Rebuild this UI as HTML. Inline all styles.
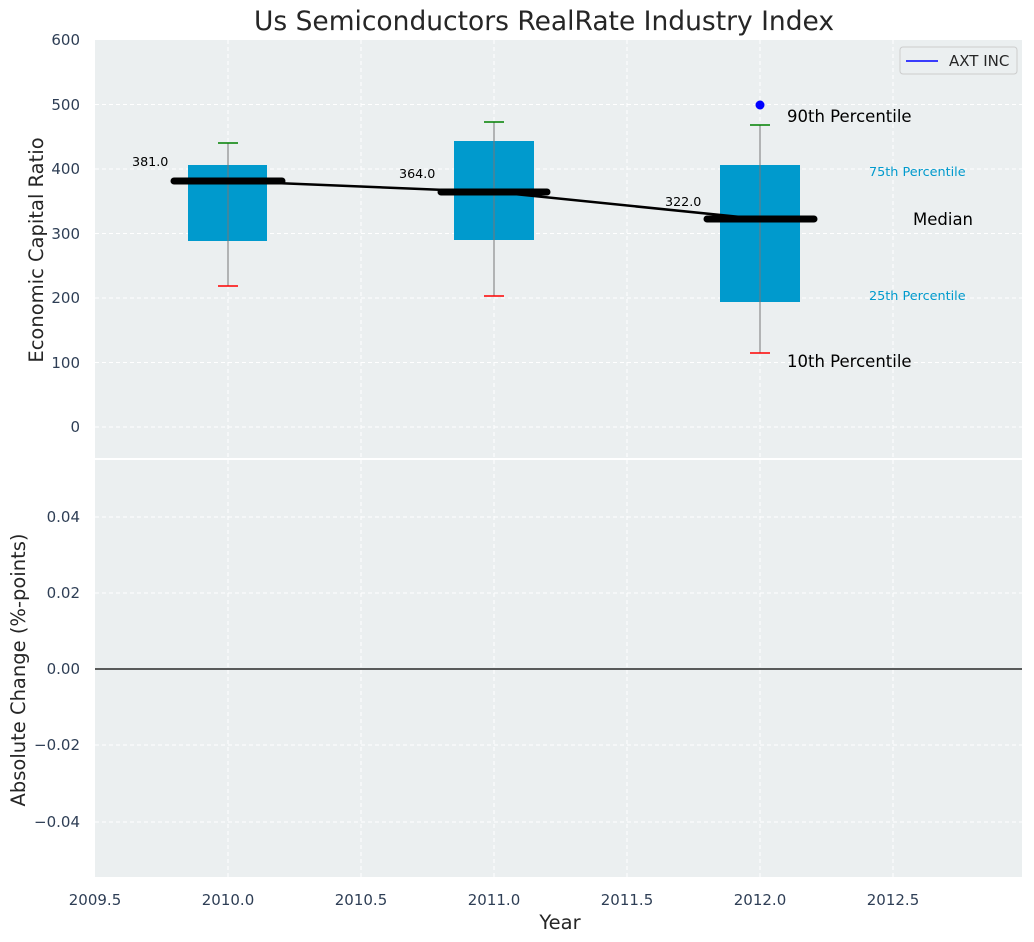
<!DOCTYPE html>
<html><head><meta charset="utf-8"><style>body{margin:0;background:#fff}svg{display:block;font-family:"DejaVu Sans","Liberation Sans",sans-serif}</style></head><body>
<svg width="1034" height="942" viewBox="0 0 1034 942" xmlns="http://www.w3.org/2000/svg">
<rect width="1034" height="942" fill="#fff"/>
<text x="544" y="30" font-size="26.5" text-anchor="middle" fill="#262626">Us Semiconductors RealRate Industry Index</text>
<rect x="95" y="40" width="927" height="418" fill="#ebeff0"/>
<g stroke="#fff" stroke-dasharray="4,3" stroke-width="1">
<line x1="228" y1="40" x2="228" y2="458"/><line x1="361" y1="40" x2="361" y2="458"/><line x1="494" y1="40" x2="494" y2="458"/><line x1="627" y1="40" x2="627" y2="458"/><line x1="760" y1="40" x2="760" y2="458"/><line x1="893" y1="40" x2="893" y2="458"/>
<line x1="95" y1="104.5" x2="1022" y2="104.5"/><line x1="95" y1="169" x2="1022" y2="169"/><line x1="95" y1="233.5" x2="1022" y2="233.5"/><line x1="95" y1="298" x2="1022" y2="298"/><line x1="95" y1="362.5" x2="1022" y2="362.5"/><line x1="95" y1="427" x2="1022" y2="427"/>
</g>
<g font-size="15" fill="#2e3e55" text-anchor="end">
<text x="80" y="45">600</text><text x="80" y="110">500</text><text x="80" y="174">400</text><text x="80" y="239">300</text><text x="80" y="303">200</text><text x="80" y="368">100</text><text x="80" y="432">0</text>
</g>
<text transform="translate(43,250) rotate(-90)" font-size="19.5" text-anchor="middle" fill="#262626">Economic Capital Ratio</text>
<g fill="#009acd">
<rect x="188" y="165" width="79" height="76"/><rect x="454" y="141" width="80" height="99"/><rect x="720" y="165" width="80" height="137"/>
</g>
<g stroke="#777" stroke-width="1">
<line x1="228" y1="143" x2="228" y2="286"/><line x1="494" y1="122" x2="494" y2="296"/><line x1="760" y1="125" x2="760" y2="353"/>
</g>
<g stroke="green" stroke-width="1.5"><line x1="218" y1="143" x2="238" y2="143"/><line x1="484" y1="122" x2="504" y2="122"/><line x1="750" y1="125" x2="770" y2="125"/></g>
<g stroke="red" stroke-width="1.5"><line x1="218" y1="286" x2="238" y2="286"/><line x1="484" y1="296" x2="504" y2="296"/><line x1="750" y1="353" x2="770" y2="353"/></g>
<polyline points="228,181 494,192 760,219" fill="none" stroke="#000" stroke-width="2.5"/>
<g stroke="#000" stroke-width="7" stroke-linecap="round"><line x1="174" y1="181" x2="282" y2="181"/><line x1="441" y1="192" x2="547" y2="192"/><line x1="707" y1="219" x2="814" y2="219"/></g>
<circle cx="760" cy="105" r="4.5" fill="#0000ff"/>
<g font-size="12.7" fill="#000"><text x="132" y="166">381.0</text><text x="399" y="178">364.0</text><text x="665" y="206">322.0</text></g>
<text x="787" y="122" font-size="16.5" fill="#000">90th Percentile</text>
<text x="787" y="367" font-size="16.5" fill="#000">10th Percentile</text>
<text x="913" y="225" font-size="16.5" fill="#000">Median</text>
<text x="869" y="176" font-size="12.8" fill="#009acd">75th Percentile</text>
<text x="869" y="300" font-size="12.8" fill="#009acd">25th Percentile</text>
<rect x="900" y="47" width="117" height="27" rx="3" fill="#ebeff0" stroke="#ccc"/>
<line x1="906" y1="61" x2="938" y2="61" stroke="#0000ff" stroke-width="1.5"/>
<text x="949" y="66" font-size="15" fill="#262626">AXT INC</text>
<rect x="95" y="460" width="927" height="417" fill="#ebeff0"/>
<g stroke="#fff" stroke-dasharray="4,3" stroke-width="1">
<line x1="228" y1="460" x2="228" y2="877"/><line x1="361" y1="460" x2="361" y2="877"/><line x1="494" y1="460" x2="494" y2="877"/><line x1="627" y1="460" x2="627" y2="877"/><line x1="760" y1="460" x2="760" y2="877"/><line x1="893" y1="460" x2="893" y2="877"/>
<line x1="95" y1="517" x2="1022" y2="517"/><line x1="95" y1="593" x2="1022" y2="593"/><line x1="95" y1="745" x2="1022" y2="745"/><line x1="95" y1="822" x2="1022" y2="822"/>
</g>
<line x1="95" y1="669" x2="1022" y2="669" stroke="#000" stroke-width="1.2"/>
<g font-size="15" fill="#2e3e55" text-anchor="end">
<text x="80" y="522">0.04</text><text x="80" y="598">0.02</text><text x="80" y="674">0.00</text><text x="80" y="750">−0.02</text><text x="80" y="827">−0.04</text>
</g>
<text transform="translate(25,670) rotate(-90)" font-size="19.5" text-anchor="middle" fill="#262626">Absolute Change (%-points)</text>
<g font-size="15" fill="#2e3e55" text-anchor="middle">
<text x="95" y="905">2009.5</text><text x="228" y="905">2010.0</text><text x="361" y="905">2010.5</text><text x="494" y="905">2011.0</text><text x="627" y="905">2011.5</text><text x="760" y="905">2012.0</text><text x="893" y="905">2012.5</text>
</g>
<text x="560" y="929" font-size="19.5" text-anchor="middle" fill="#262626">Year</text>
</svg>
</body></html>
